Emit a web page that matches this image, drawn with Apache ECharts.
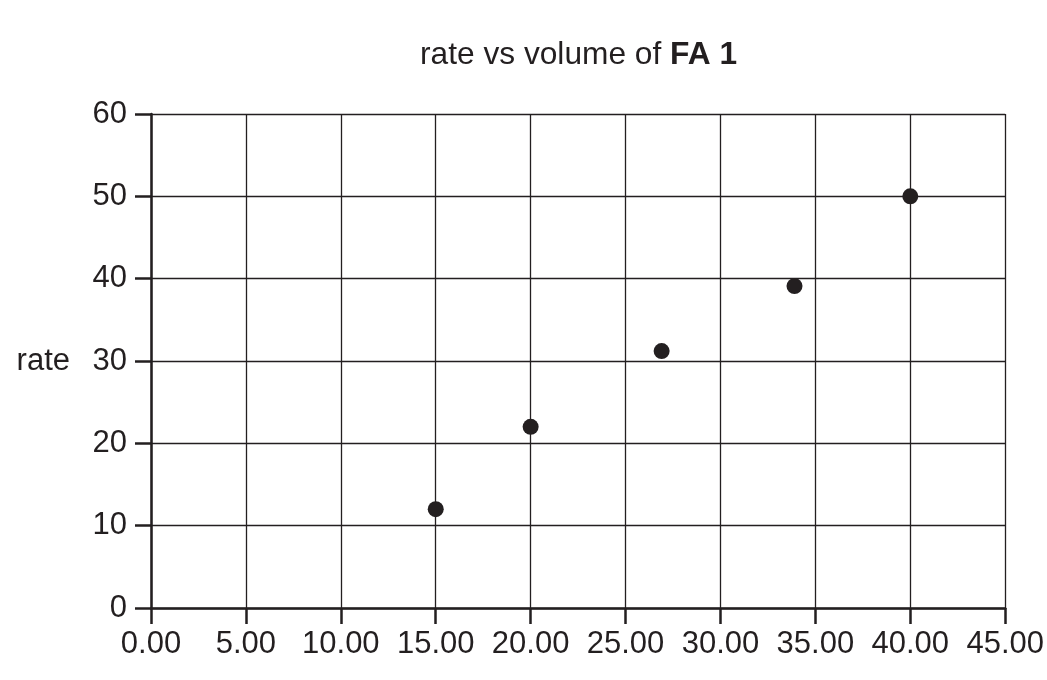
<!DOCTYPE html>
<html>
<head>
<meta charset="utf-8">
<script src="https://cdn.jsdelivr.net/npm/echarts@6/dist/echarts.min.js"></script>
<style>
html,body{margin:0;padding:0;background:#fff;}
#chart{width:1047px;height:680px;}
</style>
</head>
<body>
<div id="chart"></div>
<script>
const volume = [15, 20, 26.9, 33.9, 40];
const rate = [12, 22, 31.2, 39.1, 50];
const xTicks = [0, 5, 10, 15, 20, 25, 30, 35, 40, 45];
const yTicks = [0, 10, 20, 30, 40, 50, 60];
const titleText = 'rate vs volume of ';
const titleBold = 'FA 1';
const yName = 'rate';

const ink = '#231f20';
const font = 'Liberation Sans, Arial, sans-serif';
const chart = echarts.init(document.getElementById('chart'));
chart.setOption({
  animation: false,
  backgroundColor: '#fff',
  title: {
    text: '{a|' + titleText + '}{b|' + titleBold + '}',
    left: 420,
    top: 39,
    padding: 0,
    textStyle: {
      fontWeight: 'normal',
      rich: {
        a: {fontFamily: font, fontSize: 31.7, color: ink, fontWeight: 'normal'},
        b: {fontFamily: font, fontSize: 31.7, color: ink, fontWeight: 'bold'}
      }
    }
  },
  grid: {left: 151, right: 39.6, top: 114, bottom: 72, containLabel: false},
  xAxis: {
    type: 'value',
    min: xTicks[0], max: xTicks[xTicks.length - 1], interval: 5,
    axisLine: {show: true, onZero: false, lineStyle: {color: ink, width: 2.5}},
    axisTick: {show: true, length: 16, lineStyle: {color: ink, width: 2.5}},
    axisLabel: {margin: 21, color: ink, fontFamily: font, fontSize: 31,
      formatter: v => v.toFixed(2), showMinLabel: true, showMaxLabel: true},
    splitLine: {show: true, lineStyle: {color: ink, width: 1.3}}
  },
  yAxis: {
    type: 'value',
    min: yTicks[0], max: yTicks[yTicks.length - 1], interval: 10,
    name: yName,
    nameLocation: 'middle',
    nameRotate: 0,
    nameGap: 81,
    nameTextStyle: {color: ink, fontFamily: font, fontSize: 31, align: 'right', verticalAlign: 'middle'},
    axisLine: {show: true, onZero: false, lineStyle: {color: ink, width: 2.5}},
    axisTick: {show: true, length: 16, lineStyle: {color: ink, width: 2.5}},
    axisLabel: {margin: 24, color: ink, fontFamily: font, fontSize: 31},
    splitLine: {show: true, lineStyle: {color: ink, width: 1.3}}
  },
  series: [{
    type: 'scatter',
    data: volume.map((v, i) => [v, rate[i]]),
    symbol: 'circle',
    symbolSize: 16,
    itemStyle: {color: ink, opacity: 1},
    z: 5
  }]
});
</script>
</body>
</html>
